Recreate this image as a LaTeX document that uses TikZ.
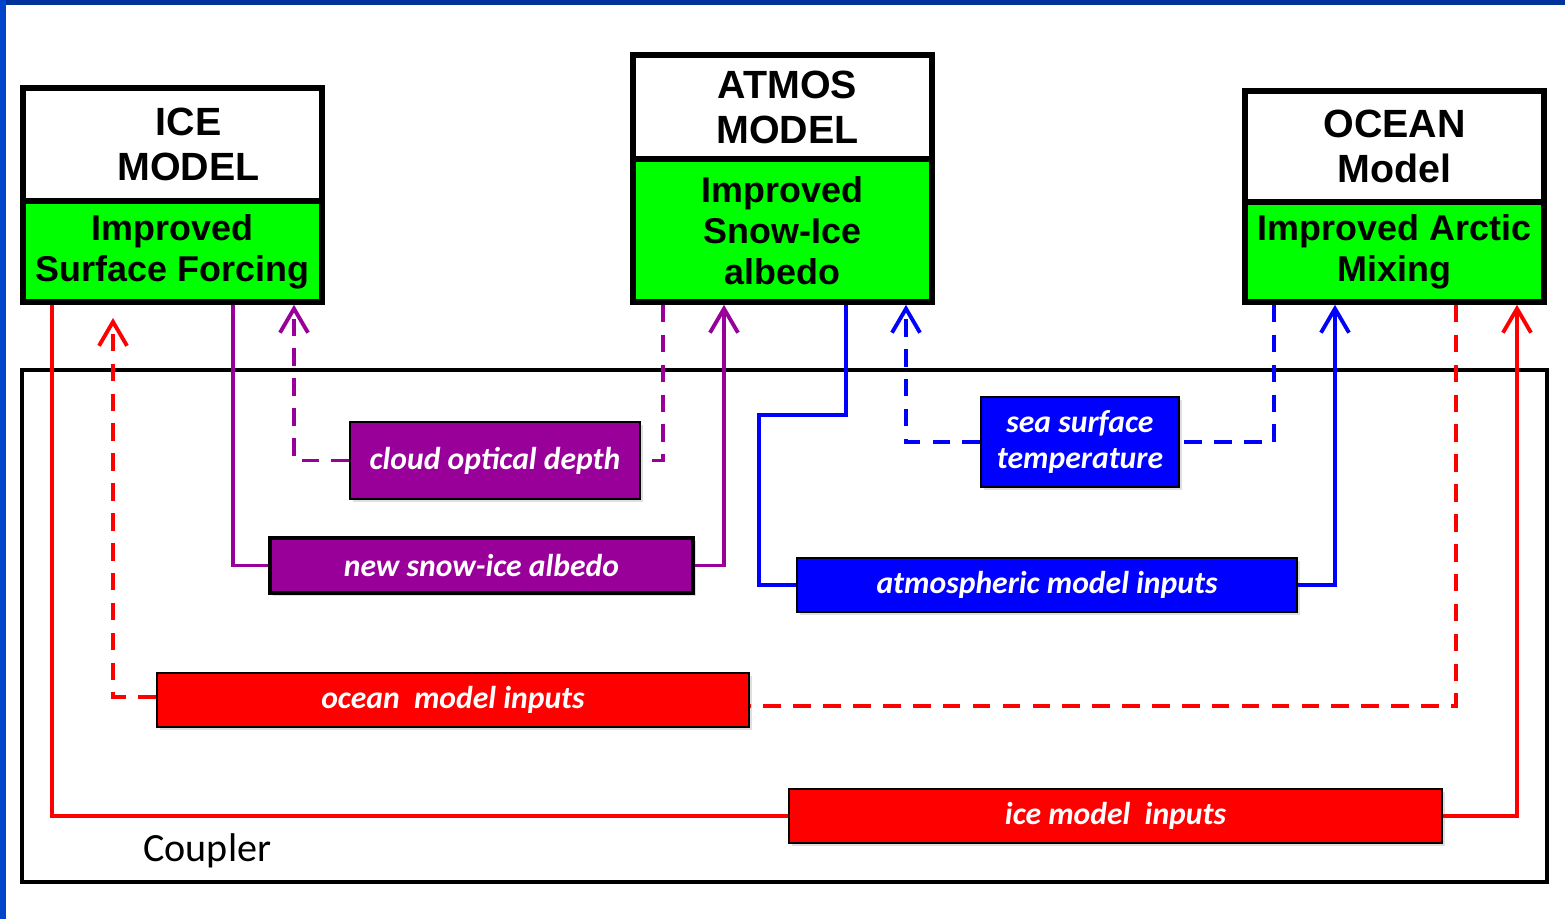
\documentclass[tikz,border=0pt]{standalone}
\usepackage{fontspec}
\setmainfont{Liberation Sans}
\newfontfamily\calibrifont{Carlito}
\usetikzlibrary{arrows.meta,shadows}

\definecolor{topbar}{RGB}{0,51,153}
\definecolor{leftbar}{RGB}{0,68,204}
\definecolor{modelgreen}{RGB}{0,255,0}
\definecolor{cplpurple}{RGB}{153,0,153}
\definecolor{cplblue}{RGB}{0,0,255}
\definecolor{cplred}{RGB}{255,0,0}

\tikzset{
  softshadow/.style={drop shadow={opacity=0.25,shadow xshift=0.8pt,shadow yshift=-0.8pt}},
  modelhead/.style={draw=black,line width=1.6pt,fill=white,minimum width=2.99cm,
    align=center,inner sep=0pt,font=\fontsize{11.2}{12.8}\selectfont\bfseries},
  modelbody/.style={modelhead,fill=modelgreen,font=\fontsize{10.2}{11.7}\selectfont\bfseries},
  flowbox/.style={draw=black,line width=0.5pt,text=white,align=center,inner sep=0pt,
    softshadow,font=\calibrifont\fontsize{9}{10.2}\selectfont\bfseries\itshape},
  wire/.style={line width=1.1pt},
  dashwire/.style={wire,dash pattern=on 5pt off 3.5pt},
  uparrow/.style={-{Straight Barb[length=2.4mm,width=2.8mm]}},
}

\begin{document}
\begin{tikzpicture}[x=0.01cm,y=-0.01cm]
  \useasboundingbox (0,0) rectangle (1565,919);
  \fill[white] (0,0) rectangle (1565,919);
  \fill[topbar] (0,0) rectangle (1565,5);
  \fill[leftbar] (0,0) rectangle (6,919);

  % coupler frame
  \draw[line width=1.1pt] (22,370) rectangle (1547,882);
  \node[anchor=west,font=\calibrifont\fontsize{11.4}{13}\selectfont] (coupler) at (131,851) {Coupler};

  % model boxes
  \node[modelhead,minimum height=1.13cm,softshadow] (icehead) at (172.5,144.5)
    {\hspace*{0.32cm}ICE\\\hspace*{0.32cm}MODEL};
  \node[modelbody,minimum height=1.01cm,softshadow] (iceb) at (172.5,251.5)
    {Improved\\Surface Forcing};
  \node[modelhead,minimum height=1.04cm,softshadow] (atmhead) at (782.5,107)
    {\hspace*{0.1cm}ATMOS\\\hspace*{0.1cm}MODEL};
  \node[modelbody,minimum height=1.43cm,softshadow] (atmb) at (782.5,230.5)
    {Improved\\Snow-Ice\\albedo};
  \node[modelhead,minimum height=1.11cm,softshadow] (oceanhead) at (1394.5,146.5)
    {OCEAN\\Model};
  \node[modelbody,minimum height=1.00cm,softshadow] (oceanb) at (1394.5,252)
    {Improved Arctic\\Mixing};

  % exchanged fields
  \node[flowbox,fill=cplpurple,minimum width=2.90cm,minimum height=0.77cm] (cloud) at (495,460.5)
    {cloud optical depth};
  \node[flowbox,fill=cplpurple,line width=1.2pt,minimum width=4.23cm,minimum height=0.55cm] (albedo) at (481.5,565.5)
    {new snow-ice albedo};
  \node[flowbox,fill=cplblue,minimum width=1.98cm,minimum height=0.90cm] (sst) at (1080,442)
    {sea surface\\temperature};
  \node[flowbox,fill=cplblue,minimum width=5.00cm,minimum height=0.54cm] (atmin) at (1047,585)
    {atmospheric model inputs};
  \node[flowbox,fill=cplred,minimum width=5.92cm,minimum height=0.54cm] (oceanin) at (453,700)
    {ocean\ \ model inputs};
  \node[flowbox,fill=cplred,minimum width=6.53cm,minimum height=0.54cm] (icein) at (1115.5,816)
    {ice model\ \ inputs};
  \coordinate (icetip) at (113,318);

  % purple: ice <-> atmos
  \draw[wire,cplpurple] (iceb.south -| 233,0) |- (albedo.west);
  \draw[wire,cplpurple,uparrow] (albedo.east) -| (atmb.south -| 724,0);
  \draw[dashwire,cplpurple] (atmb.south -| 663,0) |- (cloud.east);
  \draw[dashwire,cplpurple,uparrow] (cloud.west) -| (iceb.south -| 294,0);

  % blue: atmos <-> ocean
  \draw[wire,cplblue] (atmb.south -| 846,0) |- (759,415) |- (atmin.west);
  \draw[wire,cplblue,uparrow] (atmin.east) -| (oceanb.south -| 1335,0);
  \draw[dashwire,cplblue] (oceanb.south -| 1274,0) |- (sst.east);
  \draw[dashwire,cplblue,uparrow] (sst.west) -| (atmb.south -| 906,0);

  % red: ocean <-> ice
  \draw[dashwire,cplred] (oceanb.south -| 1456,0) |- ([yshift=-0.6mm]oceanin.east);
  \draw[dashwire,cplred,uparrow] ([yshift=0.3mm]oceanin.west) -| (icetip);
  \draw[wire,cplred] (iceb.south -| 52,0) |- (icein.west);
  \draw[wire,cplred,uparrow] (icein.east) -| (oceanb.south -| 1517,0);
\end{tikzpicture}
\end{document}
